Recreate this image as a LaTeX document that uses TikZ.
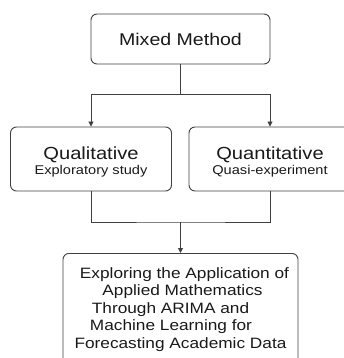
\documentclass[tikz,border=0pt]{standalone}
\usepackage{fontspec}
\setmainfont[FakeStretch=1.15]{Liberation Sans}
\usetikzlibrary{arrows.meta}
\newcommand{\padr}[1]{\hbox to #1{}}
\tikzset{
  boxstyle/.style={draw=black!75, line width=0.9pt, rounded corners=6pt, align=center, inner sep=0pt, text=black!90},
  conn/.style={draw=black!75, line width=0.9pt},
  arr/.style={conn, -{Triangle[length=5pt,width=5pt]}}
}
\begin{document}
\begin{tikzpicture}[x=1pt,y=-1pt]
\useasboundingbox (0,0) rectangle (344,358);
\node[boxstyle, minimum width=179pt, minimum height=50pt,
      font=\fontsize{17}{18}\selectfont] (top) at (180.5,39) {Mixed Method};
\node[boxstyle, minimum width=161pt, minimum height=64pt] (left) at (91,159)
  {\rule{0pt}{19pt}\fontsize{17.5}{15}\selectfont Qualitative\\[2pt]\fontsize{12.7}{15}\selectfont Exploratory study};
\node[boxstyle, minimum width=162pt, minimum height=64pt] (right) at (270,159)
  {\rule{0pt}{19pt}\fontsize{17.5}{15}\selectfont Quantitative\\[2pt]\fontsize{12.7}{15}\selectfont Quasi-experiment};
\node[boxstyle, minimum width=235pt, minimum height=112pt, anchor=north,
      font=\fontsize{15}{17.5}\selectfont] (out) at (180.5,253)
  {\padr{8pt}Exploring the Application of\\
   \padr{4pt}Applied Mathematics\\
   Through ARIMA and\padr{20pt}\\
   Machine Learning for\padr{19pt}\\
   Forecasting Academic Data};
\coordinate (j1) at (180.5,94);
\coordinate (j2) at (180.5,222);
\draw[conn] (top.south) -- (j1);
\draw[arr] (j1) -| (left.north);
\draw[arr] (j1) -| (right.north);
\draw[conn] (left.south) |- (j2) -| (right.south);
\draw[arr] (j2) -- (out.north);
\end{tikzpicture}
\end{document}
